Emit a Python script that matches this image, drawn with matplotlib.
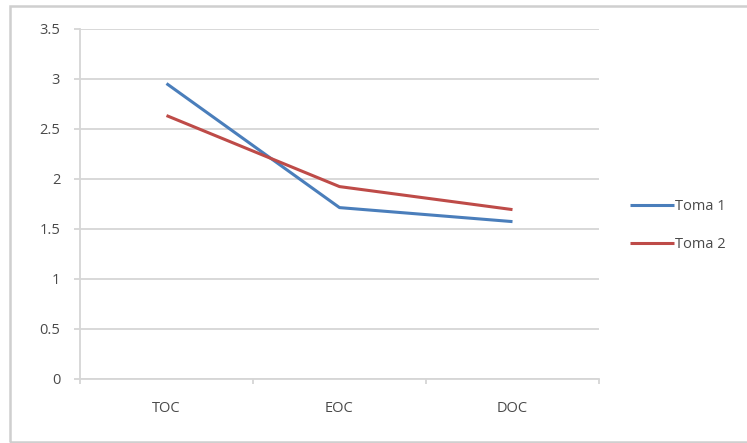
import matplotlib
matplotlib.use("Agg")
import matplotlib.pyplot as plt
from matplotlib.patches import Rectangle

categories = ["TOC", "EOC", "DOC"]
toma1 = [2.95, 1.71, 1.57]
toma2 = [2.63, 1.92, 1.69]
series_names = ["Toma 1", "Toma 2"]
y_ticks = [0, 0.5, 1, 1.5, 2, 2.5, 3, 3.5]
y_tick_labels = ["0", "0.5", "1", "1.5", "2", "2.5", "3", "3.5"]

W, H = 747, 443
plt.rcParams["font.family"] = ["Open Sans", "DejaVu Sans"]
text_color = "#4a4a4a"
grid_color = "#d6d6d6"
fs = 10.5

fig = plt.figure(figsize=(W / 100, H / 100), dpi=100)
fig.patch.set_facecolor("white")

# chart-area border
fig.add_artist(Rectangle((10 / W, 1 - 442 / H), 760 / W, 436 / H,
                         transform=fig.transFigure, fill=False,
                         edgecolor="#cfcfcf", linewidth=1.8))

ax = fig.add_axes([80 / W, 1 - 378.7 / H, (599 - 80) / W, (378.7 - 28.5) / H])
x = list(range(len(categories)))
ax.plot(x, toma1, color="#4a7ebb", linewidth=2.2, label=series_names[0],
        solid_capstyle="butt")
ax.plot(x, toma2, color="#be4b48", linewidth=2.2, label=series_names[1],
        solid_capstyle="butt")

ax.set_xlim(-0.5, len(categories) - 0.5)
ax.set_ylim(0, 3.5)
ax.set_yticks(y_ticks)
ax.set_yticklabels(y_tick_labels)
ax.set_xticks(x)
ax.set_xticklabels(categories)
ax.set_xticks([i - 0.5 for i in range(len(categories) + 1)], minor=True)

ax.yaxis.grid(True, color=grid_color, linewidth=1.3)
ax.set_axisbelow(True)
for s in ["top", "right"]:
    ax.spines[s].set_visible(False)
for s in ["left", "bottom"]:
    ax.spines[s].set_color(grid_color)
    ax.spines[s].set_linewidth(1.3)

ax.tick_params(axis="y", length=4.3, width=1.3, color=grid_color, pad=10,
               labelsize=fs, labelcolor=text_color)
ax.tick_params(axis="x", which="major", length=0, pad=16,
               labelsize=fs, labelcolor=text_color)
ax.tick_params(axis="x", which="minor", length=3.6, width=1.3, color=grid_color)

fig.legend(loc="center left", bbox_to_anchor=(630 / W, 1 - 225.5 / H),
           frameon=False, borderpad=0, borderaxespad=0,
           handlelength=3.0, handletextpad=0.1, labelspacing=1.55,
           fontsize=fs, labelcolor=text_color)

fig.savefig("out.png", dpi=100, facecolor="white")
